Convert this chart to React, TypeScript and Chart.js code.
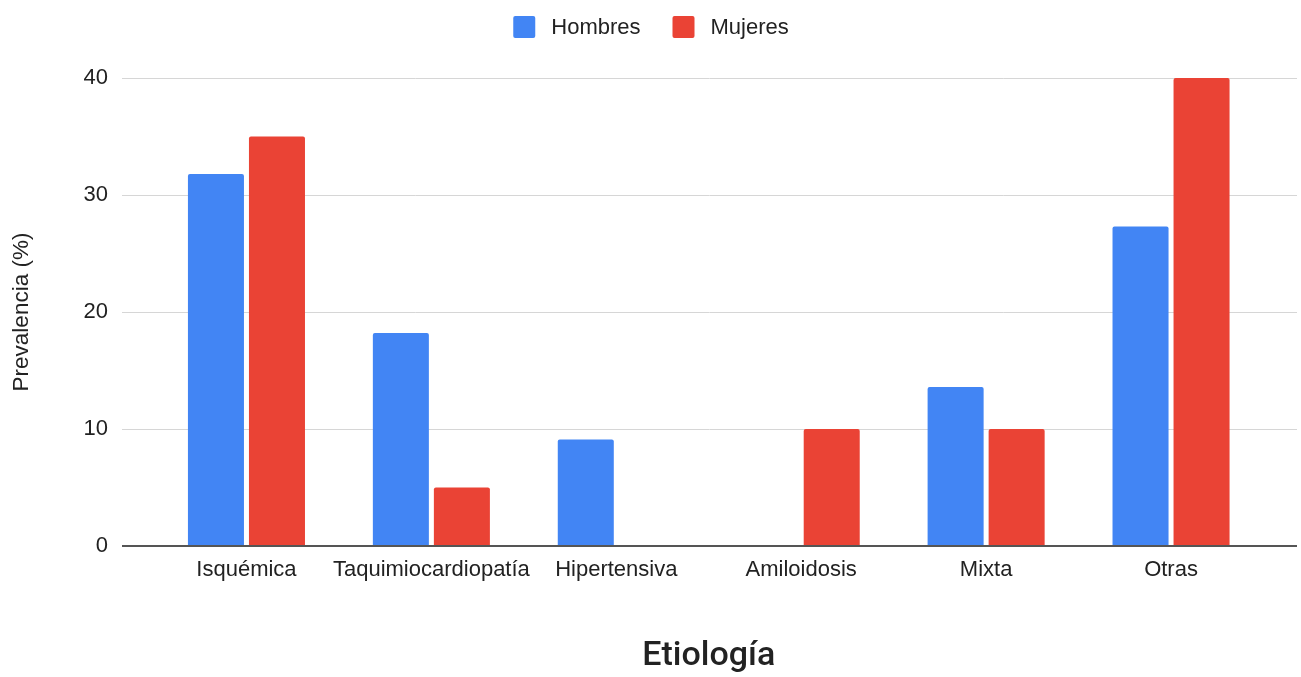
import React, { useEffect, useRef } from "react";
import { Chart, registerables } from "chart.js";

Chart.register(...registerables);

const categories = ["Isquémica", "Taquimiocardiopatía", "Hipertensiva", "Amiloidosis", "Mixta", "Otras"];
const hombres = [31.8, 18.2, 9.1, 0, 13.6, 27.3];
const mujeres = [35, 5, 0, 10, 10, 40];
const seriesNames = ["Hombres", "Mujeres"];
const seriesColors = ["#4285F4", "#EA4335"];
const yTicks = [0, 10, 20, 30, 40];
const xTitle = "Etiología";
const yTitle = "Prevalencia (%)";

const W = 1301;
const H = 677;
const FONT = "'Liberation Sans', Arial, sans-serif";

const gridPlugin = {
  id: "wideGrid",
  beforeDatasetsDraw(chart: any) {
    const { ctx, scales } = chart;
    const y = scales.y;
    ctx.save();
    ctx.strokeStyle = "#d6d6d6";
    ctx.lineWidth = 1;
    y.ticks.forEach((t: any) => {
      if (t.value === 0) return;
      const py = Math.round(y.getPixelForValue(t.value)) + 0.5;
      ctx.beginPath();
      ctx.moveTo(122, py);
      ctx.lineTo(1297, py);
      ctx.stroke();
    });
    ctx.restore();
  },
  afterDatasetsDraw(chart: any) {
    const { ctx, scales } = chart;
    const y = scales.y;
    const py = Math.round(y.getPixelForValue(0));
    ctx.save();
    ctx.strokeStyle = "#555555";
    ctx.lineWidth = 2;
    ctx.beginPath();
    ctx.moveTo(122, py);
    ctx.lineTo(1297, py);
    ctx.stroke();
    ctx.restore();
  },
};

const legendPlugin = {
  id: "customLegend",
  afterDraw(chart: any) {
    const { ctx } = chart;
    const box = 22;
    const gapText = 16;
    const gapItem = 32;
    ctx.save();
    ctx.font = `22px ${FONT}`;
    const items = chart.data.datasets.map((d: any) => ({
      label: d.label,
      color: d.backgroundColor,
      w: ctx.measureText(d.label).width,
    }));
    let total = 0;
    items.forEach((it: any, i: number) => {
      total += box + gapText + it.w + (i > 0 ? gapItem : 0);
    });
    let x = 651 - total / 2;
    const cy = 27;
    items.forEach((it: any) => {
      ctx.fillStyle = it.color;
      ctx.beginPath();
      (ctx as any).roundRect(x, cy - box / 2, box, box, 2);
      ctx.fill();
      ctx.fillStyle = "#222222";
      ctx.textBaseline = "middle";
      ctx.textAlign = "left";
      ctx.fillText(it.label, x + box + gapText, cy + 1);
      x += box + gapText + it.w + gapItem;
    });
    ctx.restore();
  },
};

export default function App() {
  const ref = useRef<HTMLCanvasElement | null>(null);

  useEffect(() => {
    if (!ref.current) return;
    const chart = new Chart(ref.current, {
      type: "bar",
      data: {
        labels: categories,
        datasets: [
          {
            label: seriesNames[0],
            data: hombres,
            backgroundColor: seriesColors[0],
            borderRadius: { topLeft: 2, topRight: 2, bottomLeft: 0, bottomRight: 0 },
            borderSkipped: "start",
            barPercentage: 0.918,
            categoryPercentage: 0.66,
          },
          {
            label: seriesNames[1],
            data: mujeres,
            backgroundColor: seriesColors[1],
            borderRadius: { topLeft: 2, topRight: 2, bottomLeft: 0, bottomRight: 0 },
            borderSkipped: "start",
            barPercentage: 0.918,
            categoryPercentage: 0.66,
          },
        ],
      },
      options: {
        responsive: false,
        animation: false,
        devicePixelRatio: 1,
        layout: { padding: { left: 0, right: 37.5, top: 78, bottom: 0 } },
        plugins: {
          legend: { display: false },
          tooltip: { enabled: false },
        },
        scales: {
          x: {
            grid: { display: false, drawTicks: false },
            border: { display: false },
            ticks: {
              padding: 11,
              color: "#222222",
              font: { family: FONT, size: 22 },
              maxRotation: 0,
              autoSkip: false,
            },
            title: {
              display: true,
              text: xTitle,
              color: "#222222",
              font: { family: "Roboto, " + FONT, size: 34, weight: "500" },
              padding: { top: 0, bottom: 0 },
            },
            afterFit(scale: any) {
              scale.height = 131;
            },
          },
          y: {
            min: 0,
            max: 40,
            afterBuildTicks(scale: any) {
              scale.ticks = yTicks.map((v) => ({ value: v }));
            },
            grid: { display: false, drawTicks: false },
            border: { display: false },
            ticks: {
              padding: 46,
              color: "#222222",
              font: { family: FONT, size: 22 },
            },
            title: {
              display: true,
              text: yTitle,
              color: "#222222",
              font: { family: FONT, size: 22.5 },
              padding: { top: 8, bottom: 0 },
            },
            afterFit(scale: any) {
              scale.width = 154;
            },
          },
        },
      },
      plugins: [gridPlugin, legendPlugin],
    });
    return () => chart.destroy();
  }, []);

  return (
    <div style={{ position: "fixed", left: 0, top: 0, width: W, height: H, background: "#ffffff" }}>
      <canvas ref={ref} width={W} height={H} style={{ width: W, height: H, display: "block" }} />
    </div>
  );
}
